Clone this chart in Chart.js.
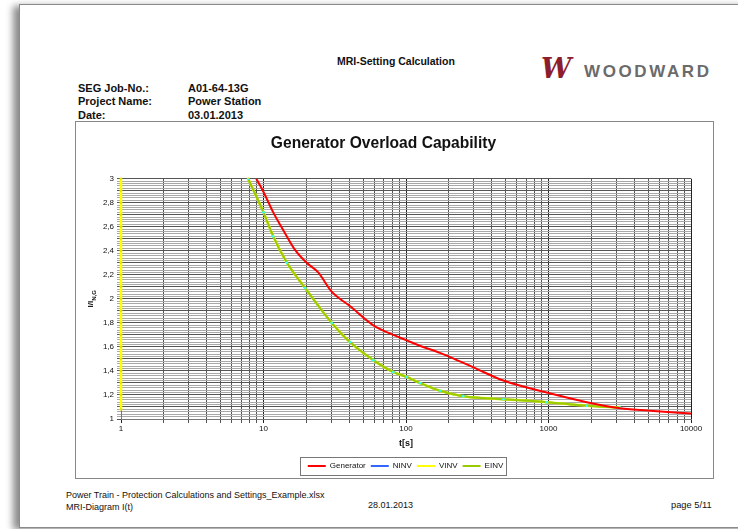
<!DOCTYPE html>
<html>
<head>
<meta charset="utf-8">
<script src="https://cdn.jsdelivr.net/npm/chart.js@4"></script>
<style>
  html, body { margin: 0; background: #fff; font-family: 'Liberation Sans', Arial, sans-serif; overflow: hidden; width: 738px; height: 529px; }
  .page { position: absolute; left: 19px; top: 4px; width: 740px; height: 522px; background: #fff;
          border: 1px solid #8a8a8a; border-right: none; box-shadow: -6px 2px 7px rgba(0,0,0,0.45); }
  .t { position: absolute; white-space: nowrap; font-size: 11px; color: #111; }
  .b { font-weight: bold; }
  .box { position: absolute; left: 75px; top: 121px; width: 637px; height: 356px; border: 1px solid #888; }
  .wrap { position: absolute; left: 76px; top: 122px; width: 636px; height: 361px; }
  .logo { position: absolute; left: 541px; top: 53px; font-family: 'DejaVu Serif', serif; font-style: italic;
          font-weight: bold; font-size: 27px; color: #8c1d2e; }
  .ww { position: absolute; left: 584px; top: 62px; font-weight: bold; font-size: 17px; color: #6b6b6b; letter-spacing: 2.6px; }
</style>
</head>
<body>
<div class="page"></div>
<div class="t b" style="left:337px;top:55px;font-size:10.5px;">MRI-Setting Calculation</div>
<div class="logo">W</div>
<div class="ww">WOODWARD</div>
<div class="t b" style="left:78px;top:82px;">SEG Job-No.:</div>
<div class="t b" style="left:188px;top:82px;">A01-64-13G</div>
<div class="t b" style="left:78px;top:95px;">Project Name:</div>
<div class="t b" style="left:188px;top:95px;">Power Station</div>
<div class="t b" style="left:78px;top:109px;">Date:</div>
<div class="t b" style="left:188px;top:109px;">03.01.2013</div>
<div class="box"></div>
<div class="wrap"><canvas id="mri"></canvas></div>
<div class="t" style="left:66px;top:490px;font-size:9px;">Power Train - Protection Calculations and Settings_Example.xlsx</div>
<div class="t" style="left:66px;top:502px;font-size:9px;">MRI-Diagram I(t)</div>
<div class="t" style="left:368px;top:500px;font-size:9px;">28.01.2013</div>
<div class="t" style="left:671px;top:500px;font-size:9.3px;">page 5/11</div>
<script>
const ctx = document.getElementById('mri');

// generator overload curve, t in s, I in p.u.
const genT = [8.9, 10, 11.7, 13.8, 16.6, 20.1, 24.2, 30.1, 40.4, 59, 81.5, 101, 125, 173, 204, 297, 482, 971, 1854, 3175, 5445, 10000];
const genI = [3, 2.89, 2.72, 2.57, 2.41, 2.3, 2.22, 2.06, 1.94, 1.78, 1.7, 1.655, 1.61, 1.55, 1.515, 1.43, 1.32, 1.22, 1.14, 1.09, 1.067, 1.045];

// NINV / VINV / EINV lie on top of each other
const invT = [7.8, 10, 11.7, 14.6, 19.6, 30.1, 40.4, 59, 81.5, 101, 125, 173, 252, 482, 971, 1854, 3175];
const ninvI = [3, 2.72, 2.52, 2.3, 2.09, 1.8, 1.64, 1.49, 1.39, 1.35, 1.3, 1.235, 1.19, 1.165, 1.14, 1.11, 1.095];
const vinvI = [3, 2.72, 2.52, 2.3, 2.09, 1.8, 1.64, 1.49, 1.39, 1.35, 1.3, 1.235, 1.19, 1.165, 1.14, 1.11, 1.095];
const einvI = [3, 2.72, 2.52, 2.3, 2.09, 1.8, 1.64, 1.49, 1.39, 1.35, 1.3, 1.235, 1.19, 1.165, 1.14, 1.11, 1.095];
// VINV values sitting on t = 1
const vinvAxisI = [3, 2.9, 2.8, 2.7, 2.6, 2.5, 2.4, 2.3, 2.2, 2.1, 2, 1.9, 1.8, 1.7, 1.6, 1.5, 1.4, 1.3, 1.2, 1.08];

const xLabels = [1, 10, 100, 1000, 10000];

const pts = (ts, is) => ts.map((t, i) => ({x: t, y: is[i]}));
const vinvPts = vinvAxisI.map(v => ({x: 1, y: v})).concat([{x: 1, y: null}], pts(invT, vinvI));

const font = 'Liberation Sans';

// border round the legend + y title with subscript
const extras = {
  id: 'extras',
  afterLayout(chart) {
    // legend sits centred under the plot, not the whole box
    const lg = chart.legend;
    if (lg) { lg.left += 22; lg.right += 22; }
  },
  afterDraw(chart) {
    const c = chart.ctx;
    const lg = chart.legend;
    if (lg && lg.legendHitBoxes.length) {
      const hb = lg.legendHitBoxes;
      const last = hb[hb.length - 1];
      const x0 = hb[0].left - 8, x1 = last.left + last.width + 3;
      const y0 = hb[0].top - 5, y1 = hb[0].top + hb[0].height + 5;
      c.save();
      c.strokeStyle = '#777';
      c.lineWidth = 1;
      c.strokeRect(Math.round(x0) + 0.5, Math.round(y0) + 0.5, Math.round(x1 - x0), Math.round(y1 - y0));
      c.restore();
    }
    const a = chart.chartArea;
    c.save();
    c.translate(14, (a.top + a.bottom) / 2);
    c.rotate(-Math.PI / 2);
    c.fillStyle = '#111';
    c.textBaseline = 'alphabetic';
    c.font = 'bold 8px ' + font;
    const w1 = c.measureText('I/I').width;
    c.font = 'bold 6px ' + font;
    const w2 = c.measureText('N,G').width;
    c.font = 'bold 8px ' + font;
    c.fillText('I/I', -(w1 + w2) / 2, 3);
    c.font = 'bold 6px ' + font;
    c.fillText('N,G', -(w1 + w2) / 2 + w1, 6);
    c.restore();
  }
};

const myChart = new Chart(ctx, {
  type: 'line',
  data: {
    datasets: [
      { label: 'Generator', data: pts(genT, genI), borderColor: '#ff0000', borderWidth: 2, pointRadius: 0, order: 0 },
      { label: 'NINV', data: pts(invT, ninvI), borderColor: '#3366ff', borderWidth: 2, pointRadius: 0, order: 3 },
      { label: 'VINV', data: vinvPts, borderColor: '#ffff00', borderWidth: 2.5, pointRadius: 1.3,
        pointBackgroundColor: '#e6e600', pointBorderWidth: 0, spanGaps: false, clip: 4, order: 2 },
      { label: 'EINV', data: pts(invT, einvI), borderColor: '#99cc00', borderWidth: 2, pointRadius: 1.3,
        pointBackgroundColor: '#33ffff', pointBorderWidth: 0, order: 1 }
    ]
  },
  options: {
    responsive: true,
    maintainAspectRatio: false,
    animation: false,
    layout: { padding: { left: 0, right: 21, top: 0, bottom: 3 } },
    elements: { line: { cubicInterpolationMode: 'monotone' } },
    scales: {
      x: {
        type: 'logarithmic', min: 1, max: 10000,
        afterFit(scale) { scale.height = 38; },
        afterBuildTicks(scale) {
          const t = [];
          for (let d = 1; d < 10000; d *= 10) for (let k = 1; k < 10; k++) t.push({value: d * k});
          t.push({value: 10000});
          scale.ticks = t;
        },
        ticks: {
          autoSkip: false, maxRotation: 0, padding: 1, color: '#111', font: {family: font, size: 8},
          callback: (v) => xLabels.includes(v) ? String(v) : ''
        },
        grid: {
          color: (c) => xLabels.includes(c.tick && c.tick.value) ? '#222' : '#555',
          lineWidth: 1, tickLength: 4
        },
        border: { color: '#777' },
        title: { display: true, text: 't[s]', color: '#111', font: {family: font, size: 9, weight: 'bold'}, padding: {top: 4, bottom: 8} }
      },
      y: {
        type: 'linear', min: 1, max: 3,
        afterFit(scale) { scale.width = 45; },
        ticks: {
          stepSize: 0.02, autoSkip: false, padding: 3, color: '#111', font: {family: font, size: 8},
          callback: (v) => Math.round(v * 50) % 10 === 0 ? String(Math.round(v * 10) / 10).replace('.', ',') : ''
        },
        grid: {
          color: (c) => (c.tick && Math.round(c.tick.value * 50) % 5 === 0) ? '#555' : '#a8a8a8',
          lineWidth: 1, tickLength: 4
        },
        border: { color: '#777' }
      }
    },
    plugins: {
      title: { display: true, text: 'Generator Overload Capability', color: '#111',
               font: {family: font, size: 15.6, weight: 'bold'}, padding: {top: 12, bottom: 26} },
      legend: {
        position: 'bottom',
        labels: {
          usePointStyle: true, pointStyle: 'line', pointStyleWidth: 18, boxHeight: 8,
          color: '#111', font: {family: font, size: 8}, padding: 5,
          generateLabels: (chart) => chart.data.datasets.map((d, i) => ({
            text: d.label, datasetIndex: i, hidden: false, fontColor: '#111',
            strokeStyle: d.borderColor, fillStyle: d.borderColor, lineWidth: 2, pointStyle: 'line'
          }))
        }
      },
      tooltip: { enabled: false }
    }
  },
  plugins: [extras]
});
</script>
</body>
</html>
